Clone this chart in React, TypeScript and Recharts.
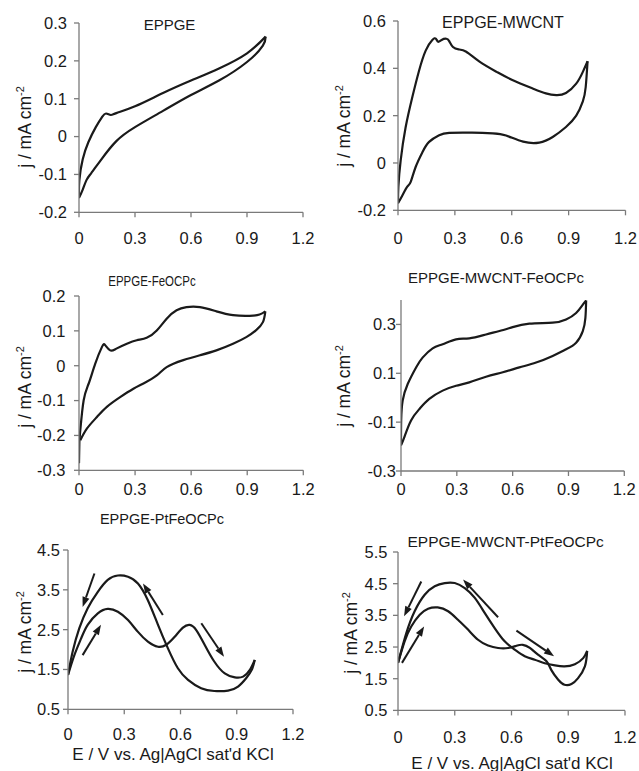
import React from "react";
import { LineChart, Line, XAxis, YAxis, ReferenceLine } from "recharts";

type Pt = [number, number]; // [E / V, j / mA cm-2]

// potential axis, shared by all panels
const eTicks = [0, 0.3, 0.6, 0.9, 1.2];

// EPPGE
const eppgeFwd: Pt[] = [
  [0, -0.16], [0.002, -0.115], [0.02, -0.06], [0.05, -0.015], [0.09, 0.025],
  [0.125, 0.053], [0.145, 0.061], [0.17, 0.057], [0.2, 0.062], [0.3, 0.08],
  [0.45, 0.115], [0.6, 0.148], [0.75, 0.18], [0.9, 0.22], [1.0, 0.264],
];
const eppgeRev: Pt[] = [
  [1.0, 0.264], [0.985, 0.24], [0.9, 0.197], [0.75, 0.148], [0.6, 0.11],
  [0.45, 0.068], [0.3, 0.025], [0.2, -0.012], [0.12, -0.06], [0.065, -0.097],
  [0.04, -0.115], [0.02, -0.14], [0, -0.162],
];

// EPPGE-MWCNT
const mwcntFwd: Pt[] = [
  [0, -0.17], [0.002, -0.1], [0.014, 0.01], [0.04, 0.15], [0.076, 0.28],
  [0.111, 0.39], [0.146, 0.475], [0.181, 0.52], [0.2, 0.525], [0.212, 0.512],
  [0.23, 0.52], [0.255, 0.525], [0.27, 0.515], [0.29, 0.49], [0.32, 0.48],
  [0.36, 0.47], [0.43, 0.428], [0.52, 0.385], [0.6, 0.352], [0.71, 0.315],
  [0.78, 0.294], [0.835, 0.287], [0.886, 0.296], [0.94, 0.335], [0.975, 0.385],
  [1.0, 0.43],
];
const mwcntRev: Pt[] = [
  [1.0, 0.43], [0.99, 0.32], [0.975, 0.26], [0.94, 0.2], [0.886, 0.152],
  [0.816, 0.11], [0.745, 0.086], [0.66, 0.09], [0.57, 0.116], [0.5, 0.125],
  [0.39, 0.128], [0.27, 0.127], [0.217, 0.117], [0.164, 0.089], [0.129, 0.046],
  [0.093, -0.017], [0.067, -0.08], [0.049, -0.1], [0.023, -0.137], [0, -0.17],
];

// EPPGE-FeOCPc
const feFwd: Pt[] = [
  [0, -0.28], [0.002, -0.22], [0.007, -0.185], [0.025, -0.099], [0.052, -0.051],
  [0.087, 0.006], [0.123, 0.054], [0.14, 0.059], [0.167, 0.044], [0.2, 0.049],
  [0.256, 0.063], [0.309, 0.073], [0.362, 0.08], [0.416, 0.101], [0.469, 0.135],
  [0.522, 0.159], [0.575, 0.168], [0.647, 0.168], [0.735, 0.156], [0.824, 0.145],
  [0.913, 0.143], [0.966, 0.147], [0.997, 0.156],
];
const feRev: Pt[] = [
  [0.997, 0.156], [0.984, 0.125], [0.948, 0.102], [0.895, 0.082], [0.824, 0.063],
  [0.735, 0.044], [0.647, 0.03], [0.558, 0.016], [0.469, -0.004], [0.416, -0.028],
  [0.345, -0.051], [0.291, -0.066], [0.22, -0.09], [0.149, -0.118], [0.096, -0.147],
  [0.043, -0.18], [0.007, -0.214],
];

// EPPGE-MWCNT-FeOCPc
const mwFeFwd: Pt[] = [
  [0, -0.195], [0.001, -0.093], [0.009, -0.012], [0.036, 0.056], [0.081, 0.124],
  [0.116, 0.164], [0.17, 0.202], [0.224, 0.219], [0.296, 0.239], [0.367, 0.243],
  [0.457, 0.259], [0.529, 0.273], [0.6, 0.289], [0.69, 0.303], [0.815, 0.307],
  [0.887, 0.32], [0.941, 0.347], [0.977, 0.381], [0.995, 0.398],
];
const mwFeRev: Pt[] = [
  [0.995, 0.398], [0.991, 0.327], [0.977, 0.273], [0.941, 0.225], [0.887, 0.198],
  [0.815, 0.171], [0.726, 0.144], [0.636, 0.124], [0.547, 0.104], [0.457, 0.086],
  [0.367, 0.063], [0.296, 0.049], [0.224, 0.029], [0.152, -0.005], [0.099, -0.046],
  [0.054, -0.093], [0.018, -0.161], [0, -0.195],
];

// EPPGE-PtFeOCPc
const ptFwd: Pt[] = [
  [0, 1.36], [0.034, 1.86], [0.07, 2.28], [0.105, 2.62], [0.159, 2.91],
  [0.212, 3.02], [0.266, 2.95], [0.32, 2.74], [0.372, 2.45], [0.426, 2.2],
  [0.48, 2.07], [0.524, 2.12], [0.569, 2.32], [0.613, 2.55], [0.649, 2.62],
  [0.684, 2.49], [0.73, 2.11], [0.78, 1.7], [0.836, 1.4], [0.89, 1.3],
  [0.934, 1.32], [0.97, 1.49], [0.996, 1.74],
];
const ptRev: Pt[] = [
  [0.996, 1.74], [0.98, 1.49], [0.95, 1.28], [0.907, 1.07], [0.854, 0.97],
  [0.78, 0.96], [0.71, 1.03], [0.64, 1.24], [0.586, 1.53], [0.533, 2.03],
  [0.48, 2.62], [0.426, 3.24], [0.373, 3.66], [0.32, 3.83], [0.266, 3.86],
  [0.212, 3.75], [0.159, 3.45], [0.105, 3.04], [0.06, 2.53], [0.025, 1.95],
  [0, 1.36],
];
// sweep arrows: [tailE, tailJ, headE, headJ]
const ptArrows = [
  [0.141, 3.91, 0.078, 3.07],
  [0.078, 1.86, 0.176, 2.62],
  [0.506, 2.87, 0.4, 3.66],
  [0.711, 2.66, 0.832, 1.82],
];

// EPPGE-MWCNT-PtFeOCPc
const mwPtFwd: Pt[] = [
  [0, 2.0], [0.035, 2.68], [0.07, 3.15], [0.115, 3.52], [0.159, 3.71],
  [0.21, 3.75], [0.265, 3.63], [0.317, 3.36], [0.37, 3.05], [0.423, 2.73],
  [0.476, 2.55], [0.529, 2.47], [0.582, 2.47], [0.626, 2.54], [0.66, 2.57],
  [0.697, 2.47], [0.74, 2.26], [0.785, 2.05], [0.81, 1.78], [0.847, 1.47],
  [0.88, 1.31], [0.917, 1.33], [0.952, 1.52], [0.988, 1.89], [1.0, 2.38],
];
const mwPtRev: Pt[] = [
  [1.0, 2.38], [0.979, 2.15], [0.935, 1.96], [0.88, 1.89], [0.83, 1.92],
  [0.776, 1.99], [0.723, 2.1], [0.67, 2.21], [0.617, 2.42], [0.564, 2.68],
  [0.511, 3.1], [0.459, 3.57], [0.406, 4.05], [0.353, 4.36], [0.3, 4.52],
  [0.247, 4.52], [0.194, 4.42], [0.141, 4.15], [0.088, 3.63], [0.044, 2.94],
  [0, 2.0],
];
const mwPtArrows = [
  [0.123, 4.57, 0.032, 3.47],
  [0.021, 2.0, 0.138, 3.15],
  [0.529, 3.44, 0.344, 4.63],
  [0.626, 3.02, 0.825, 2.21],
];

const FONT = '"Liberation Sans", Arial, sans-serif';
const INK = "#1a1a1a";
const AXIS = "#7a7a7a";
const PAD_L = 60;
const PAD_T = 10;
const PAD_R = 14;
const PAD_B = 40;

const ArrowShape = (p: any) => {
  const { x1, y1, x2, y2 } = p;
  const dx = x2 - x1;
  const dy = y2 - y1;
  const len = Math.hypot(dx, dy) || 1;
  const ux = dx / len;
  const uy = dy / len;
  const hl = 10;
  const hw = 3.6;
  const bx = x2 - ux * hl;
  const by = y2 - uy * hl;
  return (
    <g>
      <line x1={x1} y1={y1} x2={bx} y2={by} stroke={INK} strokeWidth={2} />
      <polygon
        points={`${x2},${y2} ${bx - uy * hw},${by + ux * hw} ${bx + uy * hw},${by - ux * hw}`}
        fill={INK}
      />
    </g>
  );
};

const toRows = (pts: Pt[]) => pts.map(([e, j]) => ({ e, j }));

interface PanelProps {
  box: [number, number, number, number]; // plot area left, top, right, bottom
  yDomain: [number, number];
  yTicks: number[];
  fwd: Pt[];
  rev: Pt[];
  arrows?: number[][];
  xGap: number;
  yGap: number;
  title: string;
  titlePos: [number, number, number];
  titleSqueeze?: number;
  yLabelPos: [number, number];
  xLabelPos?: [number, number];
}

const Centered = ({ x, y, size, children, rotate = false, squeeze = 1 }: any) => (
  <div
    style={{
      position: "absolute",
      left: x,
      top: y,
      transform: `translate(-50%, -50%)${rotate ? " rotate(-90deg)" : ""}${squeeze !== 1 ? ` scaleX(${squeeze})` : ""}`,
      whiteSpace: "nowrap",
      lineHeight: 1,
      fontFamily: FONT,
      fontSize: size,
      color: INK,
    }}
  >
    {children}
  </div>
);

const Panel = ({
  box, yDomain, yTicks, fwd, rev, arrows = [], xGap, yGap,
  title, titlePos, titleSqueeze = 1, yLabelPos, xLabelPos,
}: PanelProps) => {
  const [l, t, r, b] = box;
  const w = r - l;
  const h = b - t;
  const tick = { fill: INK, fontSize: 16.5, fontFamily: FONT };
  return (
    <>
      <div style={{ position: "absolute", left: l - PAD_L, top: t - PAD_T }}>
        <LineChart
          width={w + PAD_L + PAD_R}
          height={h + PAD_T + PAD_B}
          margin={{ top: PAD_T, right: PAD_R, left: 0, bottom: 0 }}
        >
          <XAxis
            dataKey="e"
            type="number"
            domain={[0, 1.2]}
            ticks={eTicks}
            interval={0}
            height={PAD_B}
            tickSize={5}
            tickMargin={xGap}
            stroke={AXIS}
            strokeWidth={1.3}
            tick={tick}
            allowDataOverflow
          />
          <YAxis
            type="number"
            domain={yDomain}
            ticks={yTicks}
            interval={0}
            width={PAD_L}
            tickSize={5}
            tickMargin={yGap}
            stroke={AXIS}
            strokeWidth={1.3}
            tick={tick}
            allowDataOverflow
          />
          <Line data={toRows(fwd)} dataKey="j" type="natural" stroke={INK}
            strokeWidth={2.2} dot={false} isAnimationActive={false} />
          <Line data={toRows(rev)} dataKey="j" type="natural" stroke={INK}
            strokeWidth={2.2} dot={false} isAnimationActive={false} />
          {arrows.map((a, i) => (
            <ReferenceLine
              key={i}
              segment={[{ x: a[0], y: a[1] }, { x: a[2], y: a[3] }]}
              shape={ArrowShape}
            />
          ))}
        </LineChart>
      </div>
      <Centered x={titlePos[0]} y={titlePos[1]} size={titlePos[2]} squeeze={titleSqueeze}>
        {title}
      </Centered>
      <Centered x={yLabelPos[0]} y={yLabelPos[1]} size={17.5} rotate>
        j / mA cm<sup style={{ fontSize: 11 }}>-2</sup>
      </Centered>
      {xLabelPos && (
        <Centered x={xLabelPos[0]} y={xLabelPos[1]} size={17}>
          E / V vs. Ag|AgCl sat'd KCl
        </Centered>
      )}
    </>
  );
};

export default function App() {
  return (
    <div style={{ position: "absolute", left: 0, top: 0, width: 639, height: 771, background: "#fff", overflow: "hidden" }}>
      <Panel box={[78.7, 22.7, 302.7, 212]} yDomain={[-0.2, 0.3]}
        yTicks={[-0.2, -0.1, 0, 0.1, 0.2, 0.3]} fwd={eppgeFwd} rev={eppgeRev}
        xGap={15} yGap={7} title="EPPGE" titlePos={[169.5, 24, 15]} yLabelPos={[25, 127]} />
      <Panel box={[398, 20.7, 625.5, 210]} yDomain={[-0.2, 0.6]}
        yTicks={[-0.2, 0, 0.2, 0.4, 0.6]} fwd={mwcntFwd} rev={mwcntRev}
        xGap={17} yGap={7} title="EPPGE-MWCNT" titlePos={[503, 22.5, 16]} yLabelPos={[344, 126]} />
      <Panel box={[78.7, 295.7, 303, 470]} yDomain={[-0.3, 0.2]}
        yTicks={[-0.3, -0.2, -0.1, 0, 0.1, 0.2]} fwd={feFwd} rev={feRev}
        xGap={8} yGap={8.5} title="EPPGE-FeOCPc" titlePos={[152, 281, 14]} titleSqueeze={0.82}
        yLabelPos={[25, 387]} />
      <Panel box={[400.7, 300, 624, 471]} yDomain={[-0.3, 0.4]}
        yTicks={[-0.3, -0.1, 0.1, 0.3]} fwd={mwFeFwd} rev={mwFeRev}
        xGap={7} yGap={0} title="EPPGE-MWCNT-FeOCPc" titlePos={[496, 277, 15]} yLabelPos={[344, 386]} />
      <Panel box={[68.3, 550, 293.3, 709.3]} yDomain={[0.5, 4.5]}
        yTicks={[0.5, 1.5, 2.5, 3.5, 4.5]} fwd={ptFwd} rev={ptRev} arrows={ptArrows}
        xGap={14} yGap={3} title="EPPGE-PtFeOCPc" titlePos={[162, 518.7, 14.5]}
        yLabelPos={[25, 632]} xLabelPos={[173, 754]} />
      <Panel box={[398, 552.3, 625, 710.7]} yDomain={[0.5, 5.5]}
        yTicks={[0.5, 1.5, 2.5, 3.5, 4.5, 5.5]} fwd={mwPtFwd} rev={mwPtRev} arrows={mwPtArrows}
        xGap={16} yGap={5.5} title="EPPGE-MWCNT-PtFeOCPc" titlePos={[505.7, 542, 15.5]}
        yLabelPos={[350.7, 633]} xLabelPos={[512, 762.5]} />
    </div>
  );
}
